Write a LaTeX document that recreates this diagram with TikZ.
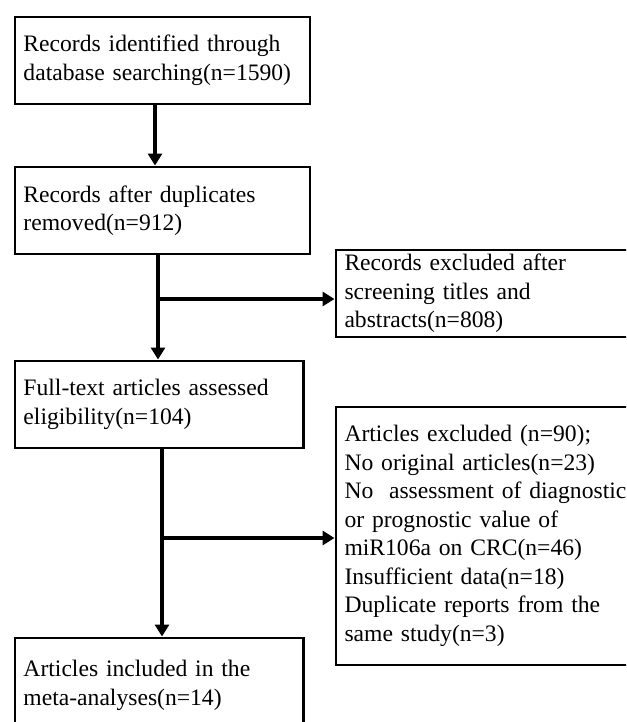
\documentclass[tikz,border=0pt]{standalone}
\usepackage{fontspec}
\setmainfont{Liberation Serif}
\usetikzlibrary{arrows.meta,positioning}

\begin{document}
\begin{tikzpicture}[x=0.75pt,y=-0.75pt,
    box/.style={draw,line width=2.2pt,anchor=north west,inner xsep=6.4pt,inner ysep=0pt,
        align=left,font=\fontsize{17.7}{21.4}\selectfont},
    flow/.style={line width=3.7pt,-{Triangle[width=10.5pt,length=9pt]}}]
        \useasboundingbox (0,0) rectangle (626,722);
        \clip (0,0) rectangle (626,722);
        %% left column
        \node[box,minimum width=221.25pt,text width=208.45pt,minimum height=65.25pt] (ident) at (13.5,15.5)
            {Records identified through\\database searching(n=1590)};
        \node[box,minimum width=221.25pt,text width=208.45pt,minimum height=65.25pt] (dedup) at (13.5,165.5)
            {Records after duplicates\\removed(n=912)};
        \node[box,minimum width=216.4pt,text width=203.6pt,minimum height=65.25pt] (full) at (13.5,359.5)
            {Full-text articles assessed\\eligibility(n=104)};
        \node[box,minimum width=216.4pt,text width=203.6pt,minimum height=71pt] (incl) at (13.5,636.5)
            {Articles included in the\\meta-analyses(n=14)};
        %% right column
        \node[box,minimum width=229pt,text width=216.2pt,minimum height=65.25pt] (screen) at (334.5,248.5)
            {Records excluded after\\screening titles and\\abstracts(n=808)};
        \node[box,minimum width=229pt,text width=216.2pt,minimum height=193.5pt] (excl) at (334.5,405.5)
            {Articles excluded (n=90);\\No original articles(n=23)\\No \ assessment of diagnostic\\or prognostic value of\\miR106a on CRC(n=46)\\Insufficient data(n=18)\\Duplicate reports from the\\same study(n=3)};
        %% arrows
        \coordinate (j1) at (158,299);
        \coordinate (j2) at (162,538);
        \draw[flow] (ident.south -| 155,0) -- (dedup.north -| 155,0);
        \draw[flow] (dedup.south -| j1) -- (full.north -| j1);
        \draw[flow] (full.south -| j2) -- (incl.north -| j2);
        \draw[flow] (j1) -- (j1 -| screen.west);
        \draw[flow] (j2) -- (j2 -| excl.west);
    \end{tikzpicture}
\end{document}
